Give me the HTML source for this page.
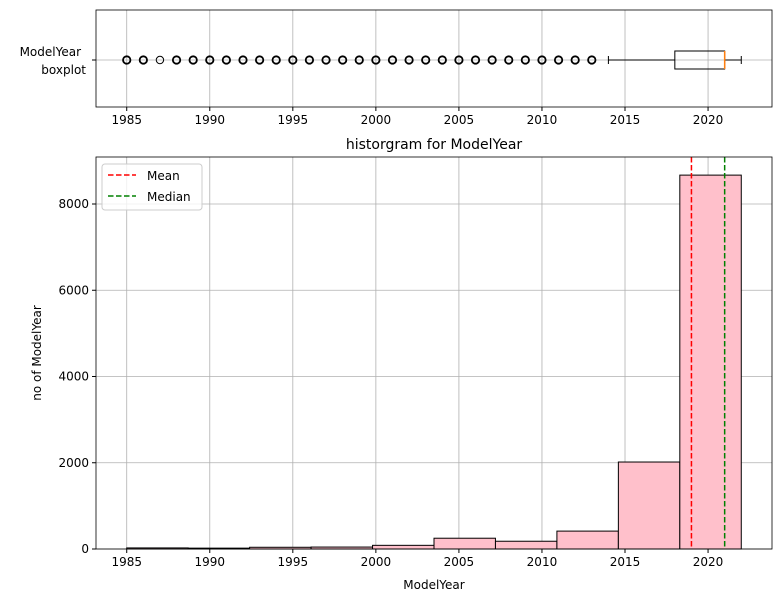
<!DOCTYPE html>
<html><head><meta charset="utf-8"><style>
body{margin:0;background:#fff;}
svg text{font-family:"DejaVu Sans","Liberation Sans",sans-serif;font-size:12px;fill:#000;}
</style></head><body>
<svg id="c" width="781" height="602" xmlns="http://www.w3.org/2000/svg"></svg>
<script>
const binEdgesStart = 1985, binEdgesEnd = 2022;
const counts = [25, 20, 40, 45, 85, 250, 180, 415, 2017, 8670];
const outlierYears = [1985,1986,1987,1988,1989,1990,1991,1992,1993,1994,1995,1996,1997,1998,1999,2000,2001,2002,2003,2004,2005,2006,2007,2008,2009,2010,2011,2012,2013];
const boxStats = {whiskerLo:2014, q1:2018, median:2021, q3:2021, whiskerHi:2022};
const meanVal = 2019.0, medianVal = 2021;
const xTicks = [1985,1990,1995,2000,2005,2010,2015,2020];
const yTicks = [0,2000,4000,6000,8000];

const NS="http://www.w3.org/2000/svg";
const svg=document.getElementById('c');
function el(t,a,parent){const e=document.createElementNS(NS,t);for(const k in a)e.setAttribute(k,a[k]);(parent||svg).appendChild(e);return e;}
const L=96,R=772;
const x=v=>L+(v-1983.15)/(2023.85-1983.15)*(R-L);
const TT=10,TB=107,BT=157,BB=549;
const y=v=>BB-v/9090*(BB-BT);

// top grid
for(const t of xTicks){const g=el('line',{x1:x(t),x2:x(t),y1:TT,y2:TB,stroke:'#b0b0b0','stroke-width':0.8});
}
el('line',{x1:L,x2:R,y1:60,y2:60,stroke:'#b0b0b0','stroke-width':0.8});
// boxplot
const bp=el('g',{});
el('line',{x1:x(boxStats.whiskerLo),x2:x(boxStats.q1),y1:60,y2:60,stroke:'#000'},bp);
el('line',{x1:x(boxStats.q3),x2:x(boxStats.whiskerHi),y1:60,y2:60,stroke:'#000'},bp);
el('line',{x1:x(boxStats.whiskerLo),x2:x(boxStats.whiskerLo),y1:56,y2:64,stroke:'#000'},bp);
el('line',{x1:x(boxStats.whiskerHi),x2:x(boxStats.whiskerHi),y1:56,y2:64,stroke:'#000'},bp);
el('rect',{x:x(boxStats.q1),y:51,width:x(boxStats.q3)-x(boxStats.q1),height:18,fill:'none',stroke:'#000'},bp);
el('line',{x1:x(boxStats.median),x2:x(boxStats.median),y1:51,y2:69,stroke:'#ff7f0e','stroke-width':1.5},bp);
for(const yr of outlierYears){const c=el('circle',{cx:x(yr),cy:60,r:3.7,fill:'none',stroke:'#000','stroke-width':yr===1987?1:1.8},bp);
}
el('rect',{x:L,y:TT,width:R-L,height:TB-TT,fill:'none',stroke:'#000','stroke-width':0.8});
for(const t of xTicks){el('line',{x1:x(t),x2:x(t),y1:TB,y2:TB+4,stroke:'#000'});
const tx=el('text',{x:x(t),y:TB+17,'text-anchor':'middle'});tx.textContent=t;
}
el('line',{x1:L-4,x2:L,y1:60,y2:60,stroke:'#000'});
let t1=el('text',{x:81,y:56,'text-anchor':'end'});t1.textContent='ModelYear';

let t2=el('text',{x:86,y:74,'text-anchor':'end'});t2.textContent='boxplot';

// bottom
for(const t of xTicks)el('line',{x1:x(t),x2:x(t),y1:BT,y2:BB,stroke:'#b0b0b0','stroke-width':0.8});
for(const t of yTicks)el('line',{x1:L,x2:R,y1:y(t),y2:y(t),stroke:'#b0b0b0','stroke-width':0.8});
const w=(binEdgesEnd-binEdgesStart)/counts.length;
counts.forEach((c,i)=>{const b=el('rect',{x:x(binEdgesStart+i*w),y:y(c),width:x(binEdgesStart+(i+1)*w)-x(binEdgesStart+i*w),height:BB-y(c),fill:'#ffc0cb',stroke:'#000','stroke-width':1});
});
const ml=el('line',{x1:x(meanVal),x2:x(meanVal),y1:BT,y2:BB,stroke:'#ff0000','stroke-width':1.5,'stroke-dasharray':'5.5,2.5'});

const mdl=el('line',{x1:x(medianVal),x2:x(medianVal),y1:BT,y2:BB,stroke:'#008000','stroke-width':1.5,'stroke-dasharray':'5.5,2.5'});

el('rect',{x:L,y:BT,width:R-L,height:BB-BT,fill:'none',stroke:'#000','stroke-width':0.8});
for(const t of xTicks){el('line',{x1:x(t),x2:x(t),y1:BB,y2:BB+4,stroke:'#000'});
const tx=el('text',{x:x(t),y:BB+17,'text-anchor':'middle'});tx.textContent=t;
}
for(const t of yTicks){el('line',{x1:L-4,x2:L,y1:y(t),y2:y(t),stroke:'#000'});
const tx=el('text',{x:L-7,y:y(t)+4,'text-anchor':'end'});tx.textContent=t;
}
const ti=el('text',{x:434,y:149,'text-anchor':'middle',style:'font-size:14px'});ti.textContent='historgram for ModelYear';

const xl=el('text',{x:434,y:589,'text-anchor':'middle'});xl.textContent='ModelYear';

const yl=el('text',{x:41,y:353,'text-anchor':'middle',transform:'rotate(-90 41 353)'});yl.textContent='no of ModelYear';

// legend
const lg=el('g',{});
el('rect',{x:102,y:164,width:100,height:46,rx:3,fill:'#fff','fill-opacity':0.8,stroke:'#ccc'},lg);
el('line',{x1:108,x2:136,y1:175,y2:175,stroke:'#ff0000','stroke-width':1.5,'stroke-dasharray':'5.5,2.5'},lg);
let a=el('text',{x:147,y:180},lg);a.textContent='Mean';
el('line',{x1:108,x2:136,y1:196,y2:196,stroke:'#008000','stroke-width':1.5,'stroke-dasharray':'5.5,2.5'},lg);
let b=el('text',{x:147,y:201},lg);b.textContent='Median';
</script>
</body></html>
